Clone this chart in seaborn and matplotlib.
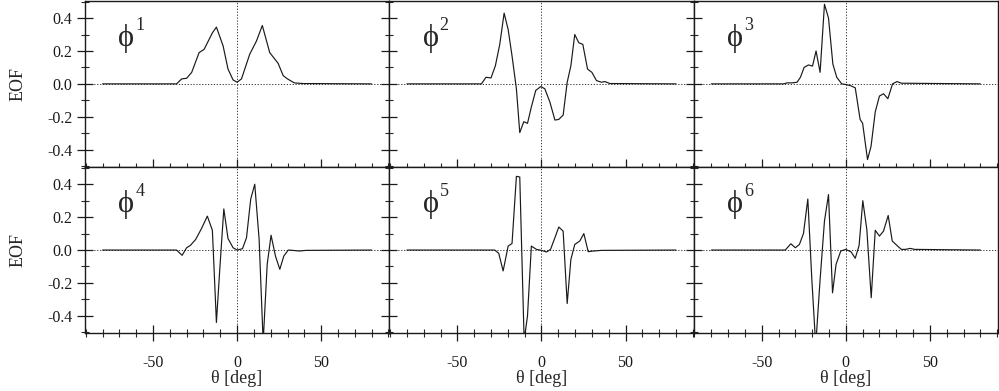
import numpy as np
import seaborn as sns
import matplotlib.pyplot as plt
from matplotlib.ticker import MultipleLocator, FormatStrFormatter

# EOF modes (theta in deg, EOF amplitude)
th1 = [-80, -36, -33, -30, -27, -22.6, -19.6, -14.7, -12.3, -8.3, -5.4, -2.4, 0, 2.6, 7.5, 11.5, 15, 19.4, 24.4, 27.4, 30, 34, 39, 80]
e1 = [0, 0, 0.03, 0.034, 0.07, 0.19, 0.21, 0.31, 0.345, 0.23, 0.09, 0.024, 0.01, 0.03, 0.18, 0.26, 0.355, 0.19, 0.125, 0.05, 0.03, 0.006, 0.002, 0]

th2 = [-80, -35.7, -33, -30, -27.4, -24.8, -22.2, -19.8, -17.5, -14.9, -12.9, -10.5, -8.3, -6, -3.4, -0.4, 2, 5, 8, 10.3, 12.9, 15.3, 17.5, 19.8, 22.2, 24.6, 27.4, 30, 32.7, 35.7, 37.7, 40.7, 80]
e2 = [0, 0, 0.04, 0.036, 0.11, 0.24, 0.43, 0.33, 0.17, -0.03, -0.296, -0.23, -0.24, -0.14, -0.04, -0.016, -0.03, -0.11, -0.22, -0.216, -0.19, 0.01, 0.11, 0.30, 0.25, 0.24, 0.09, 0.07, 0.02, 0.01, 0.014, 0.002, 0]

th3 = [-80, -37, -35, -32, -29, -27, -24.8, -22.2, -19.8, -17.7, -15.3, -12.7, -10.3, -7.7, -5.4, -2.4, 0, 2.6, 5.6, 8.5, 10, 12.9, 15, 17.5, 20, 22.4, 25, 27.8, 30.4, 33, 80]
e3 = [0, 0, 0.006, 0.006, 0.01, 0.04, 0.10, 0.115, 0.108, 0.20, 0.07, 0.484, 0.40, 0.12, 0.04, 0, -0.004, -0.01, -0.024, -0.216, -0.24, -0.46, -0.38, -0.17, -0.074, -0.06, -0.09, 0, 0.014, 0.004, 0]

th4 = [-80, -36, -32.7, -30, -27.8, -24.6, -21.2, -17.7, -14.7, -12.3, -10.3, -7.9, -5.4, -2.4, 0, 3.2, 5.6, 8.1, 10.5, 13.1, 15.5, 17.9, 20.2, 22.8, 25.4, 27.8, 30.4, 33, 37, 41, 80]
e4 = [0, 0, -0.032, 0.014, 0.028, 0.065, 0.13, 0.206, 0.12, -0.44, -0.117, 0.25, 0.07, 0.014, 0, 0.008, 0.075, 0.31, 0.40, 0.065, -0.56, -0.087, 0.09, -0.036, -0.117, -0.036, 0, -0.002, -0.006, -0.002, 0]

th5 = [-80, -27.8, -25.4, -22.8, -19.8, -17.5, -14.9, -12.9, -10.3, -8.3, -6, -3, 0, 3, 5.4, 8, 10.3, 12.9, 15.3, 17.5, 19.8, 22.8, 25.2, 27.8, 30.8, 35.7, 80]
e5 = [0, 0, -0.02, -0.127, 0.024, 0.04, 0.448, 0.444, -0.55, -0.40, 0.024, 0.004, -0.002, -0.012, 0.004, 0.075, 0.14, 0.115, -0.325, -0.057, 0.034, 0.055, 0.10, -0.01, -0.006, -0.002, 0]

th6 = [-80, -36, -32.7, -30, -27.6, -25.2, -22.6, -20.2, -17.9, -15.3, -12.7, -10.3, -7.9, -5.8, -3, 0, 3.2, 5.6, 7.9, 10.1, 12.5, 15.1, 17.5, 20, 22.4, 25.2, 27.6, 30.4, 33, 35.5, 38.3, 40.9, 80]
e6 = [0, 0, 0.038, 0.014, 0.034, 0.10, 0.31, -0.18, -0.58, -0.18, 0.176, 0.337, -0.26, -0.087, -0.006, 0.004, -0.012, -0.05, 0.028, 0.30, 0.125, -0.29, 0.12, 0.085, 0.115, 0.21, 0.055, 0.028, 0.004, 0.004, 0.01, 0.004, 0]

thetas = [th1, th2, th3, th4, th5, th6]
eofs = [e1, e2, e3, e4, e5, e6]
labels = ["1", "2", "3", "4", "5", "6"]

sns.set_theme(style="ticks")
plt.rcParams['font.family'] = ['Liberation Serif', 'DejaVu Serif']
plt.rcParams['axes.unicode_minus'] = False

fig, axes = plt.subplots(2, 3, figsize=(9.99, 3.91), dpi=100, sharex=True, sharey=True)
fig.subplots_adjust(left=0.085, right=0.999, top=0.998, bottom=0.148, wspace=0, hspace=0)

for i, ax in enumerate(axes.flat):
    ax.axhline(0, color='k', lw=0.6, ls=(0, (1.5, 2)), zorder=1)
    ax.axvline(0, color='k', lw=0.6, ls=(0, (1.5, 2)), zorder=1)
    sns.lineplot(x=thetas[i], y=eofs[i], ax=ax, color='k', lw=0.85, zorder=3)
    ax.set_xlim(-90.5, 90.5)
    ax.set_ylim(-0.505, 0.505)
    ax.xaxis.set_major_locator(MultipleLocator(50))
    ax.xaxis.set_minor_locator(MultipleLocator(10))
    ax.yaxis.set_major_locator(MultipleLocator(0.2))
    ax.yaxis.set_minor_locator(MultipleLocator(0.1))
    ax.yaxis.set_major_formatter(FormatStrFormatter('%.1f'))
    ax.tick_params(which='major', direction='inout', length=11, width=0.9, labelsize=11.5, colors='k')
    ax.tick_params(axis='x', which='major', pad=10.5)
    ax.tick_params(which='minor', direction='inout', length=6, width=0.8)
    for sp in ax.spines.values():
        sp.set_color('k')
        sp.set_linewidth(1.0)
    ax.text(0.11, 0.775, "\u03d5", transform=ax.transAxes, fontsize=22, va='center', ha='left')
    ax.text(0.165, 0.85, labels[i], transform=ax.transAxes, fontsize=13, va='center', ha='left')
    if i >= 3:
        ax.set_xlabel("θ [deg]", fontsize=13, labelpad=-1)
    if i % 3 == 0:
        ax.set_ylabel("EOF", fontsize=13, labelpad=15)

plt.savefig("out.png", dpi=100)
